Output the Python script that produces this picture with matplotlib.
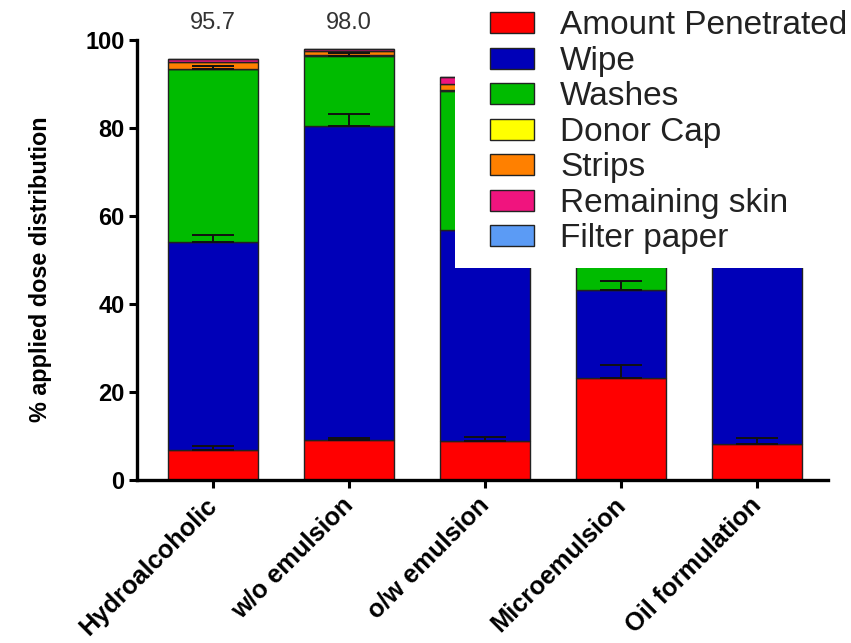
import matplotlib
matplotlib.use("Agg")
import matplotlib.pyplot as plt
from matplotlib.patches import Patch, Rectangle
from matplotlib.transforms import ScaledTranslation
import numpy as np

plt.rcParams['font.family'] = ['Liberation Sans', 'DejaVu Sans']

categories = ["Hydroalcoholic", "w/o emulsion", "o/w emulsion", "Microemulsion", "Oil formulation"]
series_names = ["Amount Penetrated", "Wipe", "Washes", "Donor Cap", "Strips", "Remaining skin", "Filter paper"]
penetrated = [6.8, 9.1, 8.9, 23.1, 8.1]
wipe = [47.3, 71.4, 47.9, 20.1, 72.0]
washes = [39.3, 15.9, 31.5, 42.0, 10.0]
donor_cap = [0.1, 0.1, 0.3, 0.2, 0.1]
strips = [1.6, 0.9, 1.4, 1.0, 0.8]
remaining_skin = [0.5, 0.5, 1.5, 0.8, 0.6]
filter_paper = [0.1, 0.1, 0.1, 0.1, 0.1]
penetrated_err = [0.9, 0.4, 0.9, 3.0, 1.4]
wipe_err = [1.6, 2.7, 1.5, 2.1, 1.5]
washes_err = [0.8, 0.6, 0.8, 1.0, 0.6]
# totals printed above bars (only visible ones, others are behind legend)
total_labels = ["95.7", "98.0"]
yticks = [0, 20, 40, 60, 80, 100]

colors = ["#FF0000", "#0000B8", "#00BB00", "#FFFF00", "#FF8000", "#F0147E", "#5B9BF5"]
series = [penetrated, wipe, washes, donor_cap, strips, remaining_skin, filter_paper]
errs = [penetrated_err, wipe_err, washes_err, None, None, None, None]

fig = plt.figure(figsize=(8.51, 6.43), dpi=100)
ax = fig.add_axes([137/851, 1-480/643, (828-137)/851, (480-40)/643])

x = np.arange(len(categories))
width = 0.665
bottom = np.zeros(len(categories))
for vals, col, name, er in zip(series, colors, series_names, errs):
    vals = np.array(vals)
    ax.bar(x, vals, width, bottom=bottom, color=col, edgecolor="#222222", linewidth=1.0, label=name, zorder=2)
    if er is not None:
        ax.errorbar(x, bottom + vals, yerr=[np.zeros(len(x)), er], fmt="none", ecolor="#111111",
                    elinewidth=1.4, capsize=15, capthick=1.4, zorder=3)
    bottom = bottom + vals

for xi, lab in zip(x, total_labels):
    ax.text(xi, 103.9, lab, ha="center", va="center", fontsize=17, color="#333333", clip_on=False)

ax.set_xlim(-0.559, 4.522)
ax.set_ylim(0, 100)
ax.set_yticks(yticks)
ax.set_yticklabels([str(t) for t in yticks], fontsize=17, fontweight="bold")
ax.set_xticks(x)
ax.set_xticklabels([])
offset = ScaledTranslation(-8/100, -13/100, fig.dpi_scale_trans)
for xi, cat in zip(x, categories):
    ax.text(xi, 0, cat, rotation=45, ha="right", va="top", rotation_mode="anchor",
            fontsize=18.3, fontweight="bold", transform=ax.get_xaxis_transform() + offset, clip_on=False)
ax.set_ylabel("% applied dose distribution", fontsize=16.8, fontweight="bold")
ax.yaxis.set_label_coords(-0.123, 0.48)
for s in ["top", "right"]:
    ax.spines[s].set_visible(False)
for s in ["left", "bottom"]:
    ax.spines[s].set_linewidth(2.4)
ax.tick_params(axis="both", direction="out", length=6, width=2.2, pad=3)

# white legend background area
fig.add_artist(Rectangle((455/851, 1-268/643), 1-455/851, 268/643, transform=fig.transFigure,
                         facecolor="white", edgecolor="none", zorder=4))
handles = [Patch(facecolor=c, edgecolor="#222222", linewidth=1.0) for c in colors]
leg = fig.legend(handles, series_names, loc="upper left", bbox_to_anchor=(487/851, 1-7/643),
                 frameon=False, fontsize=24, labelspacing=0.135, handlelength=1.3,
                 handleheight=0.6, handletextpad=0.8, borderaxespad=0, borderpad=0.1)
leg.set_zorder(5)
for t in leg.get_texts():
    t.set_color("#222222")

fig.savefig("out.png", dpi=100)
